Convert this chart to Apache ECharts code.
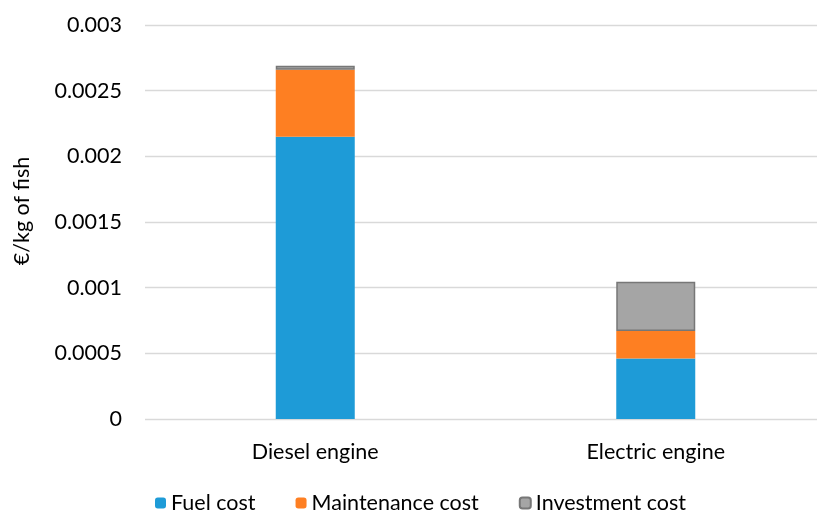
<!DOCTYPE html>
<html>
<head>
<meta charset="utf-8">
<script src="https://cdn.jsdelivr.net/npm/echarts@6/dist/echarts.min.js"></script>
<style>html,body{margin:0;padding:0;background:#fff}#c{width:817px;height:514px}</style>
</head>
<body>
<div id="c"></div>
<script>
const categories = ["Diesel engine", "Electric engine"];
const fuelCost = [0.00215, 0.00046];
const maintenanceCost = [0.00051, 0.00021];
const investmentCost = [0.00003, 0.000375];
const yTicks = [0, 0.0005, 0.001, 0.0015, 0.002, 0.0025, 0.003];

const font = "Lato, 'Open Sans', sans-serif";
const fs = 21.5;
const chart = echarts.init(document.getElementById('c'), null, {renderer: 'canvas'});
chart.setOption({
  animation: false,
  grid: {left: 145, top: 25, right: -9, height: 394, containLabel: false, outerBoundsMode: 'none'},
  legend: {
    top: 487, left: 150, itemWidth: 11, itemHeight: 11, itemGap: 40,
    textStyle: {fontFamily: font, fontSize: fs, color: '#000'},
    data: ['Fuel cost', 'Maintenance cost', 'Investment cost']
  },
  xAxis: {
    type: 'category', data: categories,
    axisLine: {show: false}, axisTick: {show: false},
    axisLabel: {fontFamily: font, fontSize: fs, color: '#000', margin: 22}
  },
  yAxis: {
    type: 'value', min: 0, max: 0.003, interval: 0.0005,
    name: '€/kg of fish', nameLocation: 'middle', nameGap: 112, nameRotate: 90,
    nameTextStyle: {fontFamily: font, fontSize: fs, color: '#000', padding: [0, 0, 0, 22]},
    axisLabel: {fontFamily: font, fontSize: fs, color: '#000', margin: 23,
      formatter: v => { const t = yTicks.find(x => Math.abs(x - v) < 1e-9); return String(t !== undefined ? t : v); }},
    splitLine: {lineStyle: {color: '#d9d9d9', width: 1.3}}
  },
  series: [
    {name: 'Fuel cost', type: 'bar', stack: 'a', data: fuelCost, barWidth: 79,
     itemStyle: {color: '#1E9BD7'}},
    {name: 'Maintenance cost', type: 'bar', stack: 'a', data: maintenanceCost, barWidth: 79,
     itemStyle: {color: '#FE7F22'}},
    {name: 'Investment cost', type: 'bar', stack: 'a', data: investmentCost, barWidth: 79,
     itemStyle: {color: '#A5A5A5', borderColor: '#777', borderWidth: 1.5}}
  ]
});
</script>
</body>
</html>
